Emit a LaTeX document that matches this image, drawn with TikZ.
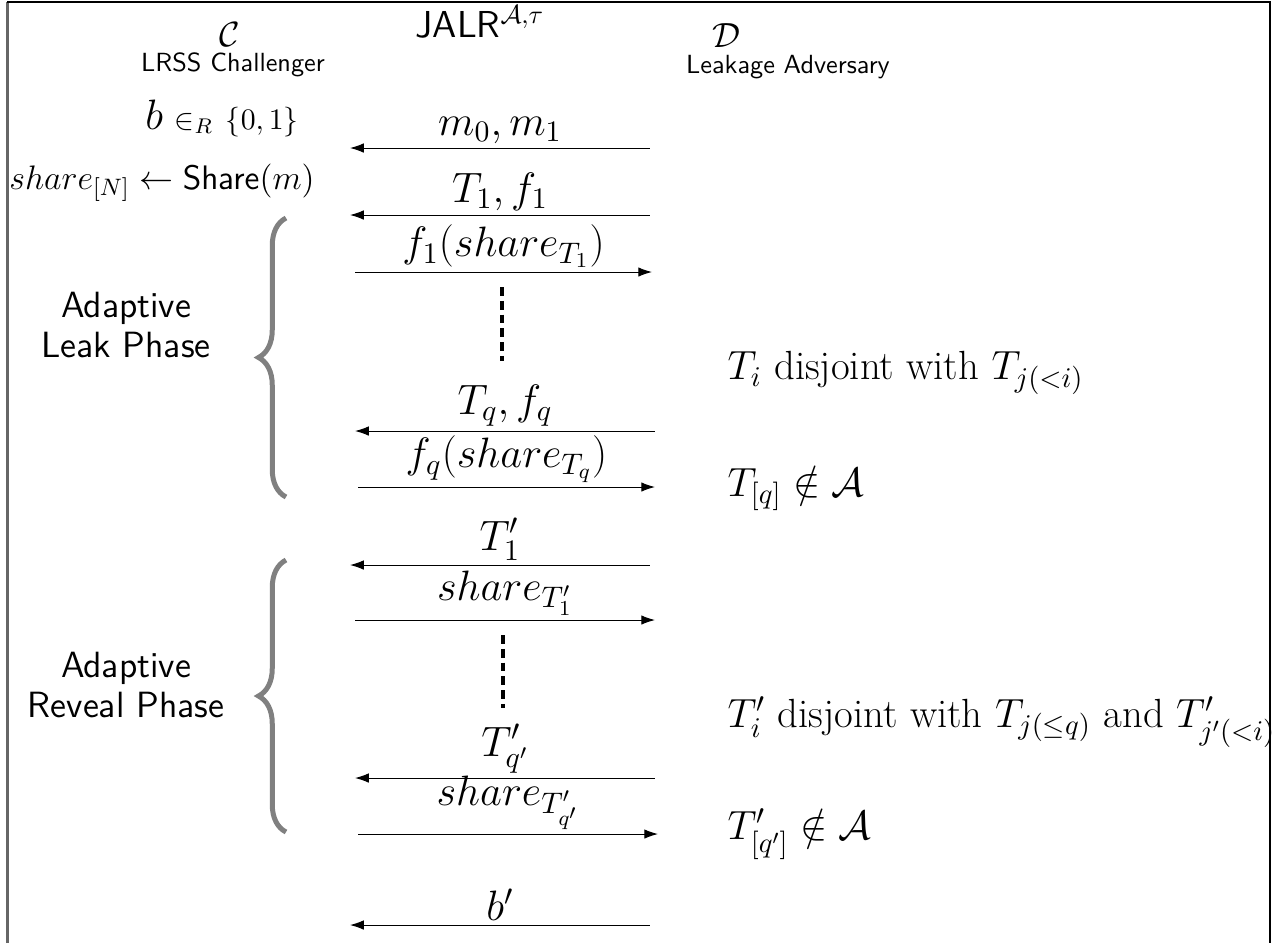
\documentclass[tikz,border=0pt]{standalone}
\usepackage{fix-cm}
\usepackage{amsmath}
\usetikzlibrary{arrows.meta,decorations.pathreplacing}

\tikzset{
  msg/.style={font=\fontsize{17}{20}\selectfont, inner sep=1.5pt},
  cond/.style={font=\fontsize{16.3}{19}\selectfont, anchor=west, inner sep=0pt},
  party/.style={font=\fontsize{10.5}{12}\selectfont\sffamily, inner sep=0pt},
  who/.style={font=\fontsize{14}{16}\selectfont, inner sep=0pt},
  phase/.style={font=\fontsize{14.6}{16}\selectfont\sffamily, align=center},
  phasebrace/.style={decorate, decoration={brace, amplitude=11pt}, gray, line width=2pt},
  gap/.style={line width=1.3pt, dash pattern=on 3.5pt off 2pt}
}

\begin{document}
\begin{tikzpicture}[>={Latex[length=5.5pt,width=3.8pt]}, x=0.4pt, y=-0.4pt]
  \useasboundingbox (0,0) rectangle (1278,943);

  % Marco
  \draw[gray!80!black, line width=1.2pt] (7,943) -- (7,2);
  \draw[line width=0.8pt] (7,2) -- (1270,2) -- (1270,943);

  % Participantes
  \node[who] (chal) at (230,35) {$\mathcal{C}$};
  \node[party] (chaltxt) at (233,65) {LRSS Challenger};
  \node[font=\fontsize{15}{17}\selectfont] (jalr) at (480,22) {\textsf{JALR}$^{\mathcal{A},\tau}$};
  \node[who] (adv) at (726,36) {$\mathcal{D}$};
  \node[party] (advtxt) at (788,67) {Leakage Adversary};

  % Preparacion
  \node[font=\fontsize{17}{20}\selectfont] (coin) at (222,118)
        {$b\;{\scriptstyle\in_R\ \{0,\,1\}}$};
  \node[font=\fontsize{13.6}{16}\selectfont] (shr) at (162,183)
        {$share_{[N]} \leftarrow \mathsf{Share}(m)$};

  % Extremos de los mensajes
  \coordinate (m1L) at (350,148);  \coordinate (m1R) at (650,148);
  \coordinate (m2L) at (350,215);  \coordinate (m2R) at (650,215);
  \coordinate (m3L) at (355,272);  \coordinate (m3R) at (652,272);
  \coordinate (m4L) at (355,431);  \coordinate (m4R) at (655,431);
  \coordinate (m5L) at (358,487);  \coordinate (m5R) at (655,487);
  \coordinate (m6L) at (350,565);  \coordinate (m6R) at (650,565);
  \coordinate (m7L) at (355,620);  \coordinate (m7R) at (655,620);
  \coordinate (m8L) at (355,778);  \coordinate (m8R) at (655,778);
  \coordinate (m9L) at (358,834);  \coordinate (m9R) at (658,834);
  \coordinate (m10L) at (350,925); \coordinate (m10R) at (650,925);

  % Fase de fuga
  \draw[<-] (m1L) -- (m1R) node[msg, midway, above] (lm) {$m_0, m_1$};
  \draw[<-] (m2L) -- (m2R) node[msg, midway, above] (lt1) {$T_1, f_1$};
  \draw[->] (m3L) -- (m3R) node[msg, midway, above] (lf1) {$f_1(share_{T_1})$};
  \coordinate (g1t) at (502,287); \coordinate (g1b) at (502,361);
  \draw[gap] (g1t) -- (g1b);
  \draw[<-] (m4L) -- (m4R) node[msg, midway, above] (ltq) {$T_q, f_q$};
  \draw[->] (m5L) -- (m5R) node[msg, midway, above] (lfq) {$f_q(share_{T_q})$};

  % Fase de revelacion
  \draw[<-] (m6L) -- (m6R) node[msg, midway, above] (lt1p) {$T'_1$};
  \draw[->] (m7L) -- (m7R) node[msg, midway, above] (ls1p) {$share_{T'_1}$};
  \coordinate (g2t) at (503,635); \coordinate (g2b) at (503,708);
  \draw[gap] (g2t) -- (g2b);
  \draw[<-] (m8L) -- (m8R) node[msg, midway, above] (ltqp) {$T'_{q'}$};
  \draw[->] (m9L) -- (m9R) node[msg, midway, above] (lsqp) {$share_{T'_{q'}}$};

  % Respuesta
  \draw[<-] (m10L) -- (m10R) node[msg, midway, above] (lb) {$b'$};

  % Llaves y fases
  \coordinate (b1b) at (286,497); \coordinate (b1t) at (286,218);
  \draw[phasebrace] (b1b) -- (b1t);
  \node[phase] (leak) at (126,325) {Adaptive\\Leak Phase};
  \coordinate (b2b) at (286,832); \coordinate (b2t) at (286,560);
  \draw[phasebrace] (b2b) -- (b2t);
  \node[phase] (reveal) at (126,685) {Adaptive\\Reveal Phase};

  % Condiciones
  \node[cond] (c1) at (727,373) {$T_i$ disjoint with $T_{j(<i)}$};
  \node[cond] (c2) at (727,488) {$T_{[q]} \notin \mathcal{A}$};
  \node[cond] (c3) at (727,722) {$T'_i$ disjoint with $T_{j(\leq q)}$ and $T'_{j'(<i)}$};
  \node[cond] (c4) at (727,834) {$T'_{[q']} \notin \mathcal{A}$};
\end{tikzpicture}
\end{document}
